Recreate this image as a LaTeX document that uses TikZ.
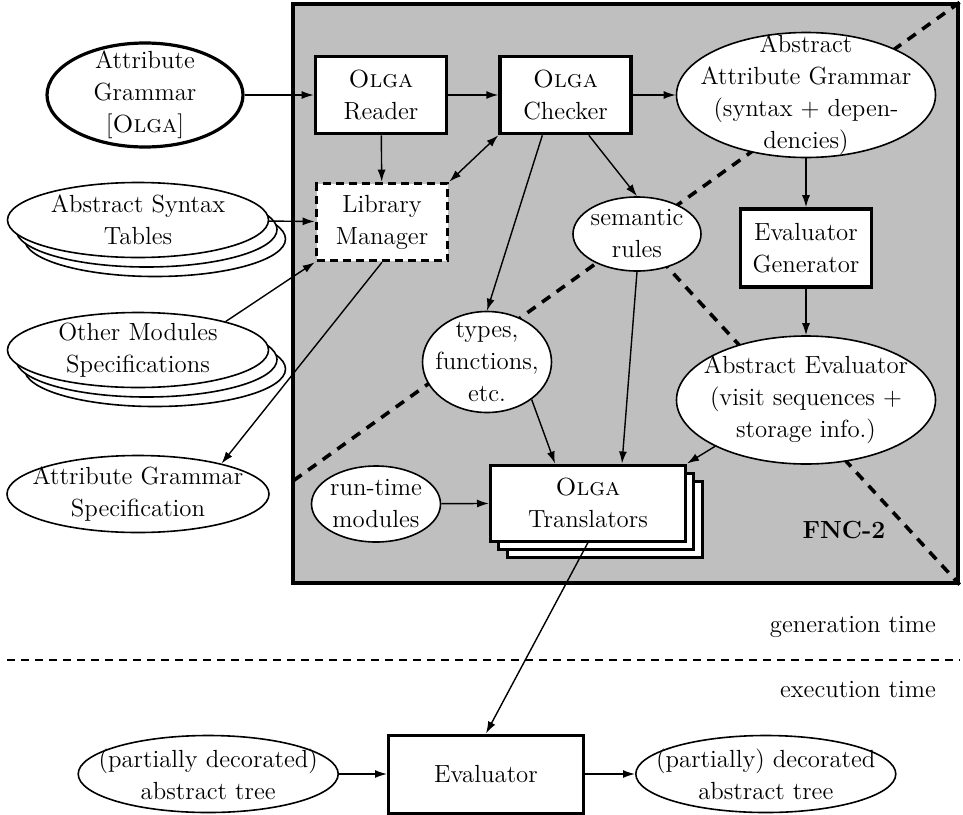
\documentclass[tikz,border=0pt]{standalone}
\usepackage{tikz}
\usetikzlibrary{arrows.meta,positioning,shapes,shadows,calc}

\begin{document}
\begin{tikzpicture}[
    x=0.5pt, y=-0.5pt,
    font=\fontsize{12.4}{16}\selectfont,
    >={Latex[length=6pt,width=4pt]},
    tool/.style={draw, line width=1.8pt, fill=white, align=center, minimum width=65.5pt, minimum height=38.5pt},
    data/.style={draw, ellipse, line width=0.8pt, fill=white, align=center, inner sep=-10pt},
    stack/.style={copy shadow={shadow xshift=8.5pt, shadow yshift=-9.5pt}, copy shadow={shadow xshift=4.25pt, shadow yshift=-4.75pt}},
    flow/.style={->, line width=0.7pt},
    cut/.style={dash pattern=on 5pt off 4pt, line width=1.8pt}
  ]
    \useasboundingbox (0,0) rectangle (963,814);

    \node[draw, line width=1.6pt, fill=black!25, minimum width=332.5pt, minimum height=289.5pt] (sys) at (625.5,293.5) {};
    \coordinate (cross) at (637,234);
    \coordinate (edge) at ($(sys.north east)!2.072!(cross)$);
    \draw[cut] (sys.north east) -- (edge);
    \draw[cut] (cross) -- (sys.south east);

    \node[data, line width=1.6pt, minimum width=98pt, minimum height=52pt] (ag) at (145,95) {Attribute\\Grammar\\{}[\textsc{Olga}]};
    \node[tool] (reader) at (381,95) {\textsc{Olga}\\Reader};
    \node[tool, right=25pt of reader] (checker) {\textsc{Olga}\\Checker};
    \node[data, minimum width=129.5pt, minimum height=62.5pt] (aag) at (806,95) {Abstract\\Attribute Grammar\\(syntax + depen-\\dencies)};
    \node[tool, dash pattern=on 4pt off 2.5pt] (libmgr) at (382,222) {Library\\Manager};
    \node[data, stack, minimum width=130.5pt, minimum height=37.5pt] (ast) at (138,220) {Abstract Syntax\\Tables};
    \node[data, stack, minimum width=130.5pt, minimum height=37.5pt] (oms) at (138,350) {Other Modules\\Specifications};
    \node[data, minimum width=131pt, minimum height=38.5pt] (ags) at (138,494) {Attribute Grammar\\Specification};
    \node[data, minimum width=64pt, minimum height=37pt] (sem) at (cross) {semantic\\rules};
    \node[tool, minimum height=39pt] (evgen) at (806,248) {Evaluator\\Generator};
    \node[data, minimum width=64.5pt, minimum height=50.5pt] (types) at (487,362) {types,\\functions,\\etc.};
    \node[data, minimum width=129.5pt, minimum height=64pt] (absev) at (806,400) {Abstract Evaluator\\(visit sequences +\\storage info.)};
    \node[tool, line width=1.5pt, minimum width=97.5pt, minimum height=38pt,
          copy shadow={shadow xshift=8.5pt, shadow yshift=-8pt}, copy shadow={shadow xshift=4pt, shadow yshift=-4pt}] (trans) at (588,503) {\textsc{Olga}\\Translators};
    \node[data, minimum width=64.5pt, minimum height=38pt] (runtime) at (376,504) {run-time\\modules};
    \node[font=\fontsize{12.4}{16}\selectfont\bfseries] (fnc) at (844,530) {FNC-2};

    \node[anchor=east] (gen) at (943,627) {generation time};
    \coordinate (dl) at (7,660);
    \coordinate (dr) at (960,660);
    \draw[dash pattern=on 4pt off 3pt, line width=0.8pt] (dl) -- (dr);
    \node[anchor=east] (exe) at (943,690) {execution time};

    \node[tool, line width=1.5pt, minimum width=97.5pt, minimum height=39pt] (evaluator) at (486,774) {Evaluator};
    \node[data, minimum width=130pt, minimum height=38.5pt, left=24pt of evaluator] (pde) {(partially decorated)\\abstract tree};
    \node[data, minimum width=130pt, minimum height=38.5pt, right=25pt of evaluator] (dec) {(partially) decorated\\abstract tree};

    \draw[flow] (ag) -- (reader);
    \draw[flow] (reader) -- (checker);
    \draw[flow] (checker) -- (aag);
    \draw[flow] (reader) -- (libmgr);
    \draw[flow, <->] (checker.south west) -- (libmgr.north east);
    \draw[flow] (ast) -- (libmgr);
    \draw[flow] (oms.18) -- (libmgr.south west);
    \draw[flow] (libmgr.south) -- (ags.20);
    \draw[flow] (checker.-60) -- (sem.north);
    \draw[flow] (checker.-120) -- (types.north);
    \draw[flow] (aag) -- (evgen);
    \draw[flow] (evgen) -- (absev);
    \draw[flow] (sem.south) -- ([xshift=17pt]trans.north);
    \draw[flow] (types.-40) -- ([xshift=-16.5pt]trans.north);
    \draw[flow] (absev.-153) -- (trans.north east);
    \draw[flow] (runtime) -- (trans);
    \draw[flow] (trans.south) -- (evaluator.north);
    \draw[flow] (pde) -- (evaluator);
    \draw[flow] (evaluator) -- (dec);
  \end{tikzpicture}
\end{document}
